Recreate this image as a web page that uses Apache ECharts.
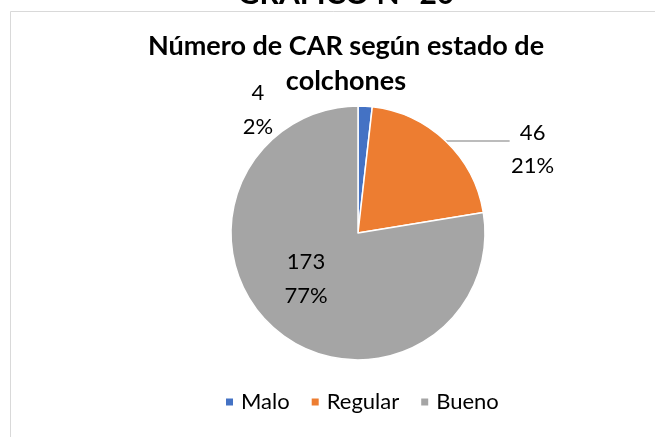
<!DOCTYPE html>
<html>
<head>
<meta charset="utf-8">
<script src="https://cdn.jsdelivr.net/npm/echarts@6/dist/echarts.min.js"></script>
<style>
  html, body { margin: 0; padding: 0; background: #fff; }
  #main { width: 655px; height: 437px; }
</style>
</head>
<body>
<div id="main"></div>
<script>
var dom = document.getElementById('main');
var myChart = echarts.init(dom, null, { renderer: 'canvas' });

var categories = ['Malo', 'Regular', 'Bueno'];
var values = [4, 46, 173];
var colors = ['#4472c4', '#ed7d31', '#a5a5a5'];

// where the Malo and Bueno labels sit; Regular uses its leader line
var labelSpots = [
    { x: 258, y: 110 },
    null,
    { x: 306, y: 279 }
];

var fontFam = 'Lato, "Open Sans", sans-serif';

var option = {
    color: colors,
    animation: false,
    graphic: [
        {
            type: 'rect',
            shape: { x: 10.5, y: 11.5, width: 700, height: 500 },
            style: { fill: '#fff', stroke: '#d9d9d9', lineWidth: 1 },
            z: -10
        },
        {
            type: 'text',
            x: 346, y: 9,
            style: {
                text: 'GRÁFICO N° 20',
                font: 'bold 30px ' + fontFam,
                fill: '#000',
                align: 'center',
                verticalAlign: 'bottom'
            }
        }
    ],
    title: {
        text: 'Número de CAR según estado de\ncolchones',
        left: 341,
        top: 24,
        textAlign: 'center',
        textStyle: {
            fontFamily: fontFam,
            fontWeight: 'bold',
            fontSize: 27,
            lineHeight: 35,
            color: '#000'
        }
    },
    legend: {
        bottom: 19,
        left: 219,
        itemWidth: 9,
        itemHeight: 9,
        itemGap: 20,
        icon: 'rect',
        textStyle: { fontFamily: fontFam, fontSize: 22, color: '#000', padding: [0, 0, 0, 2] },
        data: categories
    },
    series: [
        {
            type: 'pie',
            center: [358, 233],
            radius: [0, 127],
            startAngle: 90,
            clockwise: true,
            percentPrecision: 0,
            avoidLabelOverlap: false,
            itemStyle: { borderColor: '#fff', borderWidth: 1.5 },
            data: categories.map(function (c, i) {
                var d = { name: c, value: values[i] };
                if (c === 'Regular') {
                    d.labelLine = { show: true, length: 0.1, length2: 64 };
                    d.label = {
                        formatter: '{a|{c}}\n{a|{d}%}',
                        padding: [16, 0, 0, 0],
                        rich: {
                            a: {
                                fontFamily: fontFam, fontSize: 22, lineHeight: 33,
                                width: 36, align: 'center', color: '#000'
                            }
                        }
                    };
                }
                return d;
            }),
            label: {
                show: true,
                position: 'outside',
                alignTo: 'none',
                formatter: '{c}\n{d}%',
                fontFamily: fontFam,
                fontSize: 22,
                lineHeight: 34,
                color: '#000',
                align: 'center'
            },
            labelLine: {
                show: false,
                smooth: false,
                lineStyle: { color: '#a6a6a6', width: 1.5 }
            },
            labelLayout: function (p) {
                var s = labelSpots[p.dataIndex];
                if (!s) return {};
                return { x: s.x, y: s.y, align: 'center', verticalAlign: 'middle' };
            }
        }
    ]
};

myChart.setOption(option);
window.addEventListener('resize', myChart.resize);
</script>
</body>
</html>
